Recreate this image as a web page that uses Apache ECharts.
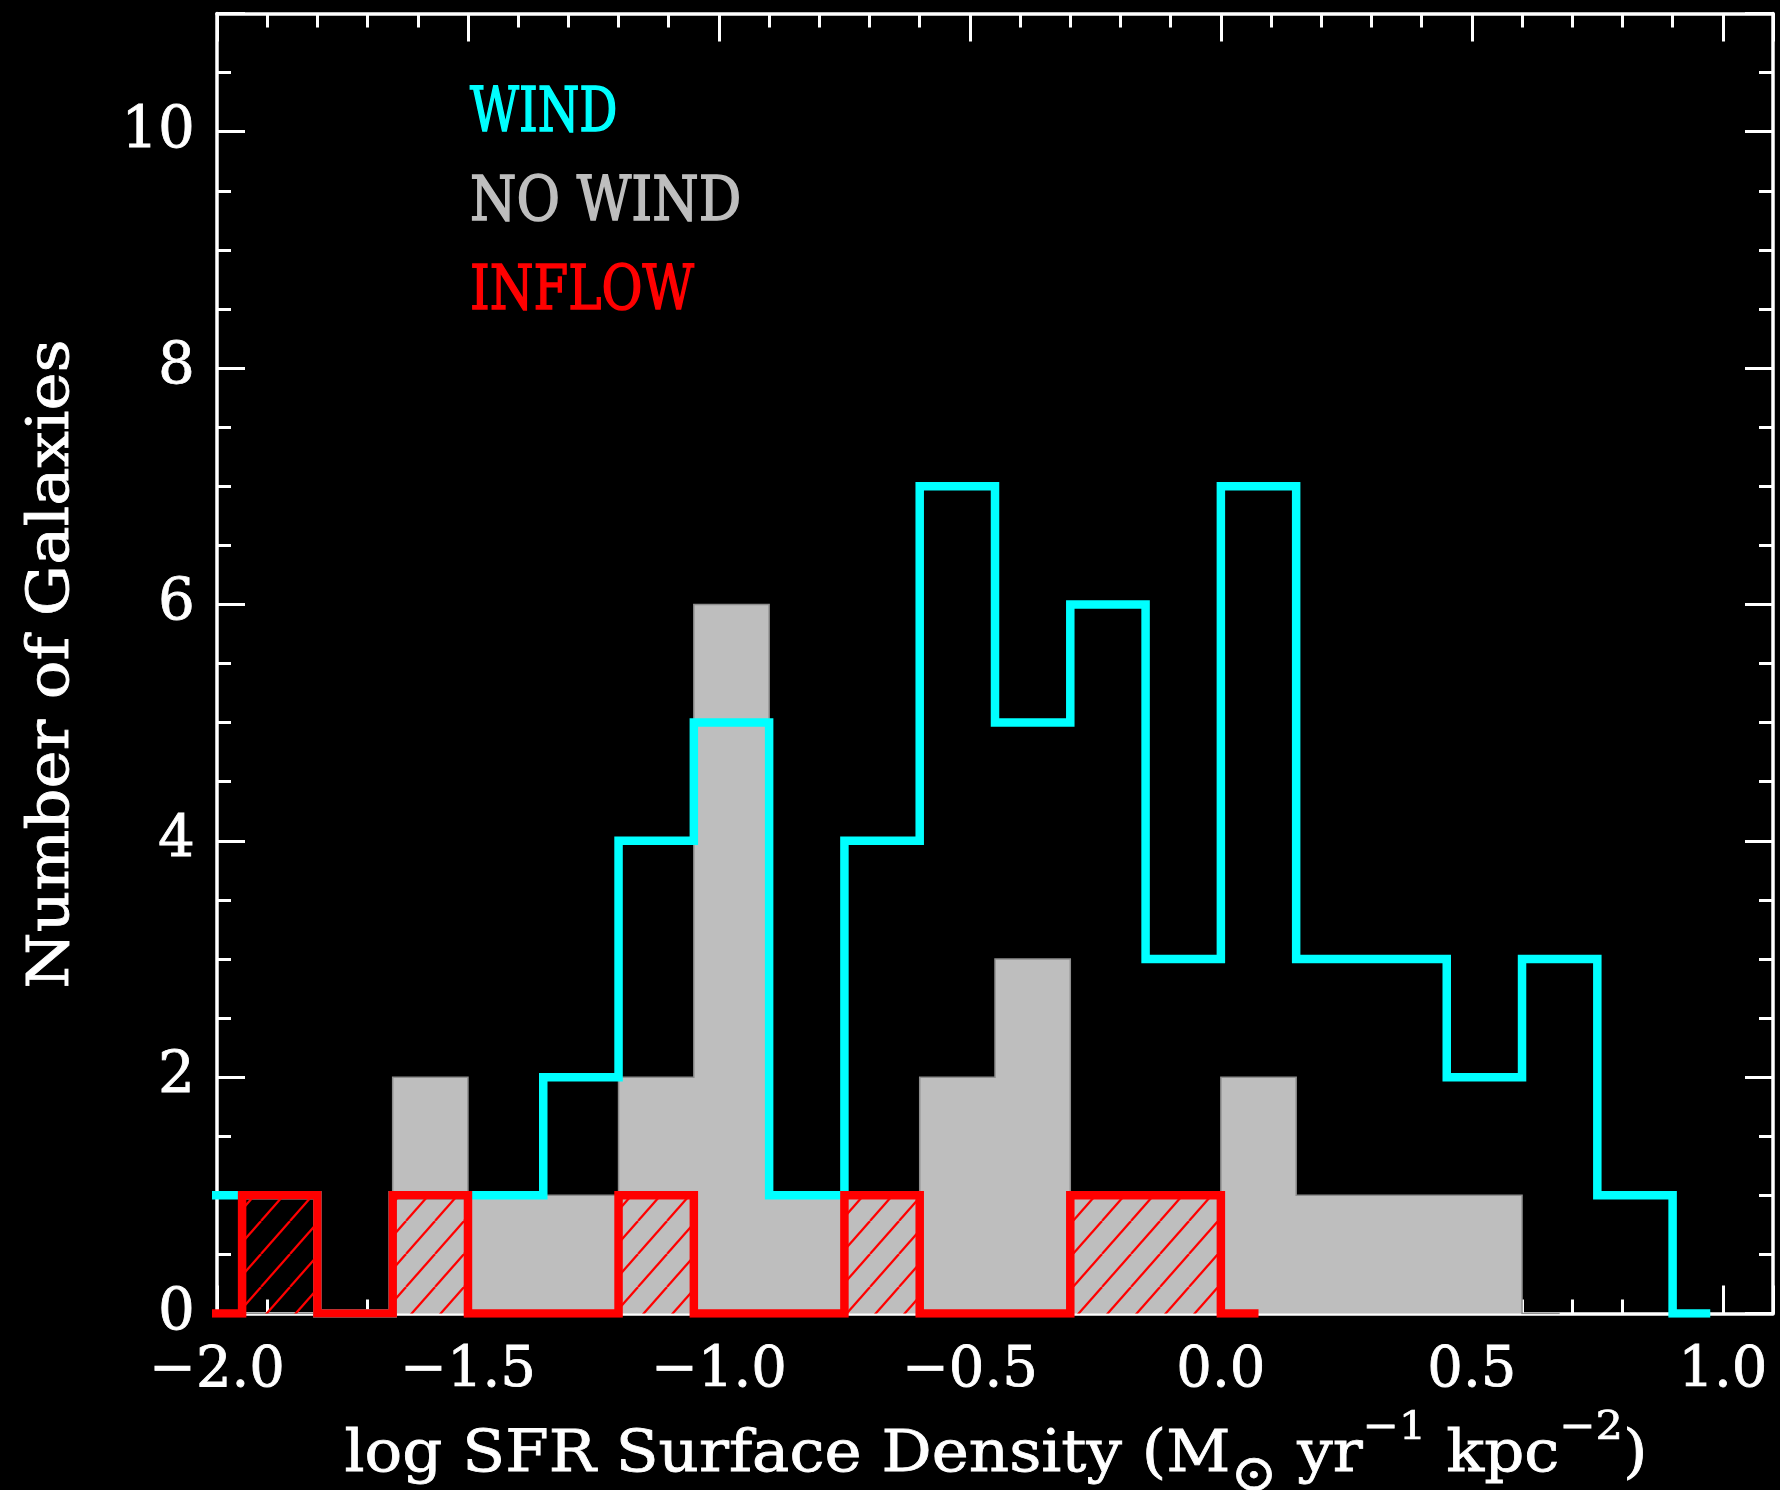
<!DOCTYPE html>
<html>
<head>
<meta charset="utf-8">
<script src="https://cdn.jsdelivr.net/npm/echarts@6/dist/echarts.min.js"></script>
<style>
  html, body { margin: 0; padding: 0; background: #000; }
  #chart { width: 1780px; height: 1490px; }
</style>
</head>
<body>
<div id="chart"></div>
<script>
// Histogram bin centres (bin width 0.15 dex in log SFR surface density)
const binCenters = [-2.025, -1.875, -1.725, -1.575, -1.425, -1.275, -1.125, -0.975,
                    -0.825, -0.675, -0.525, -0.375, -0.225, -0.075, 0.075, 0.225,
                    0.375, 0.525, 0.675, 0.825, 0.975];

// Galaxy counts per bin for each sample
const windCounts   = [1, 1, 0, 1, 1, 2, 4, 5, 1, 4, 7, 5, 6, 3, 7, 3, 3, 2, 3, 1, 0];
const noWindCounts = [0, 0, 0, 2, 1, 1, 2, 6, 1, 1, 2, 3, 1, 1, 2, 1, 1, 1, 0];
const inflowCounts = [0, 1, 0, 1, 0, 0, 1, 0, 0, 1, 0, 0, 1, 1, 0];

// Axis ranges and tick spacing
const xRange = [-2.0, 1.1];
const yRange = [0, 11];
const xMajor = 0.5, xMinor = 0.1;
const yMajor = 2,   yMinor = 0.5;

// Legend entries
const legendNames = ['WIND', 'NO WIND', 'INFLOW'];

const WHITE = '#ffffff';
const CYAN = '#00ffff';
const GRAY = '#bebebe';
const RED = '#ff0000';
const FONT = 'DejaVu Serif';

function pairs(counts) {
  return counts.map((c, i) => [binCenters[i], c]);
}

// diagonal red hatching used to fill the inflow histogram
function hatchCanvas() {
  const w = 29, h = 33;
  const c = document.createElement('canvas');
  c.width = w; c.height = h;
  const g = c.getContext('2d');
  g.strokeStyle = RED;
  g.lineWidth = 2.2;
  for (let k = -1; k <= 1; k++) {
    g.beginPath();
    g.moveTo(k * w, h);
    g.lineTo(k * w + w, 0);
    g.stroke();
  }
  return c;
}

function fmtX(v) {
  if (v > xRange[1] - 0.05) return '';
  return (v < -1e-9 ? '\u2212' : '') + Math.abs(v).toFixed(1);
}
function fmtY(v) {
  if (v > yRange[1] - 0.5) return '';
  return String(Math.round(v));
}

function xAxisDef(position, interval, tickLen, showLabel, showLine) {
  return {
    type: 'value', position: position, min: xRange[0], max: xRange[1], interval: interval,
    axisLine: { show: showLine, onZero: false, lineStyle: { color: WHITE, width: 3.5 } },
    axisTick: { show: true, inside: true, length: tickLen, lineStyle: { color: WHITE, width: 3 } },
    axisLabel: { show: showLabel, color: WHITE, fontFamily: FONT, fontSize: 56, margin: 30,
                 textBorderColor: WHITE, textBorderWidth: 0.8, formatter: fmtX },
    splitLine: { show: false }
  };
}
function yAxisDef(position, interval, tickLen, showLabel, showLine) {
  return {
    type: 'value', position: position, min: yRange[0], max: yRange[1], interval: interval,
    axisLine: { show: showLine, onZero: false, lineStyle: { color: WHITE, width: 3.5 } },
    axisTick: { show: true, inside: true, length: tickLen, lineStyle: { color: WHITE, width: 3 } },
    axisLabel: { show: showLabel, color: WHITE, fontFamily: FONT, fontSize: 58, margin: 22,
                 textBorderColor: WHITE, textBorderWidth: 0.8, formatter: fmtY },
    splitLine: { show: false }
  };
}

function legendText(name, color, y, sx) {
  return {
    type: 'text', x: 470, y: y, scaleX: sx, z: 10,
    style: { text: name, fill: color, stroke: color, lineWidth: 1.6,
             font: '61px "' + FONT + '"', align: 'left', verticalAlign: 'middle' }
  };
}

const chart = echarts.init(document.getElementById('chart'), null, { renderer: 'canvas' });

const option = {
  backgroundColor: '#000000',
  animation: false,
  grid: { left: 217, right: 7, top: 13.5, bottom: 176.5, outerBoundsMode: 'none', containLabel: false },
  xAxis: [
    xAxisDef('bottom', xMajor, 28, true, true),
    xAxisDef('bottom', xMinor, 14, false, false),
    xAxisDef('top', xMajor, 28, false, true),
    xAxisDef('top', xMinor, 14, false, false)
  ],
  yAxis: [
    yAxisDef('left', yMajor, 28, true, true),
    yAxisDef('left', yMinor, 14, false, false),
    yAxisDef('right', yMajor, 28, false, true),
    yAxisDef('right', yMinor, 14, false, false)
  ],
  series: [
    {
      name: legendNames[1], type: 'line', step: 'middle', data: pairs(noWindCounts),
      xAxisIndex: 0, yAxisIndex: 0, showSymbol: false, z: 2,
      lineStyle: { color: '#8e8e8e', width: 1.5, join: 'miter' },
      areaStyle: { color: GRAY, opacity: 1 }
    },
    {
      name: legendNames[0], type: 'line', step: 'middle', data: pairs(windCounts),
      xAxisIndex: 0, yAxisIndex: 0, showSymbol: false, z: 3,
      lineStyle: { color: CYAN, width: 8.5, join: 'miter', cap: 'butt' }
    },
    {
      name: legendNames[2], type: 'line', step: 'middle', data: pairs(inflowCounts),
      xAxisIndex: 0, yAxisIndex: 0, showSymbol: false, z: 4,
      lineStyle: { color: RED, width: 8.5, join: 'miter', cap: 'butt' },
      areaStyle: { color: { image: hatchCanvas(), repeat: 'repeat' }, opacity: 1 }
    }
  ],
  graphic: [
    legendText(legendNames[0], CYAN, 115, 0.78),
    legendText(legendNames[1], GRAY, 204, 0.87),
    legendText(legendNames[2], RED, 293, 0.82),
    {
      type: 'text', x: 53, y: 664, rotation: Math.PI / 2, scaleX: 1.11, z: 10,
      style: { text: 'Number of Galaxies', fill: WHITE, stroke: WHITE, lineWidth: 0.8,
               font: '58px "' + FONT + '"', align: 'center', verticalAlign: 'middle' }
    },
    {
      type: 'text', x: 996, y: 1456, scaleX: 1.08, z: 10,
      style: {
        text: '{b|log SFR Surface Density (M}{sub|\u2299}{b| yr}{sup|\u22121}{b| kpc}{sup|\u22122}{b|)}',
        align: 'center', verticalAlign: 'middle',
        rich: {
          b:   { fill: WHITE, stroke: WHITE, lineWidth: 0.8, fontFamily: FONT, fontSize: 58, lineHeight: 94 },
          sup: { fill: WHITE, stroke: WHITE, lineWidth: 0.7, fontFamily: FONT, fontSize: 40, lineHeight: 58, verticalAlign: 'top' },
          sub: { fill: WHITE, stroke: WHITE, lineWidth: 0.7, fontFamily: FONT, fontSize: 52, lineHeight: 48, verticalAlign: 'bottom' }
        }
      }
    }
  ]
};

chart.setOption(option);
</script>
</body>
</html>
